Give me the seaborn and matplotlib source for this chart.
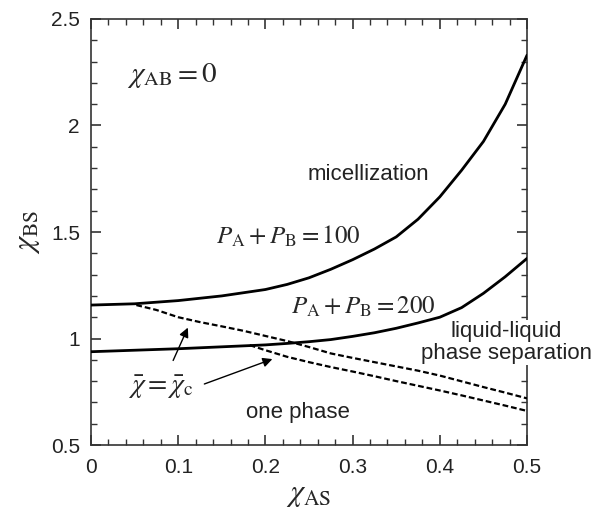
import matplotlib
matplotlib.use("Agg")
import matplotlib.pyplot as plt
import seaborn as sns
import pandas as pd
from matplotlib.ticker import MultipleLocator

# ---- data ----
x_p100 = [0.0, 0.05, 0.10, 0.15, 0.20, 0.225, 0.25, 0.275, 0.30, 0.325, 0.35,
          0.375, 0.40, 0.425, 0.45, 0.475, 0.50]
y_p100 = [1.157, 1.163, 1.178, 1.20, 1.230, 1.254, 1.285, 1.325, 1.37, 1.42, 1.477,
          1.56, 1.665, 1.79, 1.925, 2.10, 2.33]

x_p200 = [0.0, 0.05, 0.10, 0.15, 0.20, 0.225, 0.25, 0.275, 0.30, 0.325, 0.35,
          0.375, 0.40, 0.425, 0.45, 0.475, 0.50]
y_p200 = [0.938, 0.945, 0.952, 0.961, 0.970, 0.977, 0.985, 0.995, 1.01, 1.027, 1.048,
          1.073, 1.10, 1.145, 1.212, 1.29, 1.376]

x_c100 = [0.052, 0.075, 0.10, 0.125, 0.15, 0.175, 0.20, 0.225, 0.25, 0.275, 0.30,
          0.325, 0.35, 0.375, 0.40, 0.425, 0.45, 0.475, 0.50]
y_c100 = [1.157, 1.134, 1.10, 1.077, 1.057, 1.036, 1.012, 0.988, 0.96, 0.93, 0.909,
          0.889, 0.869, 0.849, 0.826, 0.799, 0.772, 0.746, 0.719]

x_c200 = [0.182, 0.20, 0.225, 0.25, 0.275, 0.30, 0.325, 0.35, 0.375, 0.40, 0.425,
          0.45, 0.475, 0.50]
y_c200 = [0.969, 0.945, 0.914, 0.889, 0.866, 0.845, 0.823, 0.800, 0.778, 0.756, 0.733,
          0.709, 0.685, 0.66]

xticks = [0, 0.1, 0.2, 0.3, 0.4, 0.5]
xticklabels = ["0", "0.1", "0.2", "0.3", "0.4", "0.5"]
yticks = [0.5, 1, 1.5, 2, 2.5]
yticklabels = ["0.5", "1", "1.5", "2", "2.5"]

sns.set_style("ticks")
plt.rcParams["font.family"] = ["Liberation Sans", "DejaVu Sans"]
plt.rcParams["mathtext.fontset"] = "stix"

fig = plt.figure(figsize=(6.01, 5.09), dpi=100)
ax = fig.add_axes([0.1514, 0.1257, 0.7255, 0.837])

df_s1 = pd.DataFrame({"x": x_p100, "y": y_p100})
df_s2 = pd.DataFrame({"x": x_p200, "y": y_p200})
df_d1 = pd.DataFrame({"x": x_c100, "y": y_c100})
df_d2 = pd.DataFrame({"x": x_c200, "y": y_c200})

dash = (0, (2.6, 1.3))
sns.lineplot(data=df_s1, x="x", y="y", ax=ax, color="black", lw=2.0, zorder=6)
sns.lineplot(data=df_s2, x="x", y="y", ax=ax, color="black", lw=2.0, zorder=6)
sns.lineplot(data=df_d1, x="x", y="y", ax=ax, color="black", lw=1.6, linestyle=dash, zorder=6)
sns.lineplot(data=df_d2, x="x", y="y", ax=ax, color="black", lw=1.6, linestyle=dash, zorder=6)

ax.set_xlim(0, 0.5)
ax.set_ylim(0.5, 2.5)
ax.set_xticks(xticks)
ax.set_xticklabels(xticklabels)
ax.set_yticks(yticks)
ax.set_yticklabels(yticklabels)
ax.xaxis.set_minor_locator(MultipleLocator(0.02))
ax.yaxis.set_minor_locator(MultipleLocator(0.1))
ax.tick_params(which="both", direction="in", top=True, right=True, colors="#333333",
               labelcolor="#222222", labelsize=15)
ax.tick_params(which="major", length=7, width=1.2)
ax.tick_params(which="minor", length=4, width=1.0)
ax.tick_params(axis="x", pad=9)
ax.tick_params(axis="y", pad=8)
for s in ax.spines.values():
    s.set_linewidth(1.2)
    s.set_color("#333333")

ax.set_xlabel(r"$\chi_{\rm AS}$", fontsize=22, labelpad=2)
ax.set_ylabel(r"$\chi_{\rm BS}$", fontsize=22, labelpad=6)

ax.text(0.041, 2.235, r"$\chi_{\rm AB} = 0$", fontsize=21, ha="left", va="center")
ax.text(0.248, 1.77, "micellization", fontsize=16, ha="left", va="center", color="#222222")
ax.text(0.226, 1.48, r"$P_{\rm A} + P_{\rm B} = 100$", fontsize=18, ha="center", va="center")
ax.text(0.312, 1.15, r"$P_{\rm A} + P_{\rm B} = 200$", fontsize=18, ha="center", va="center")
ax.text(0.476, 0.982, "liquid-liquid\nphase separation", fontsize=16, ha="center", va="center",
        color="#222222", linespacing=1.1,
        bbox=dict(facecolor="white", edgecolor="none", pad=0.5), clip_on=False, zorder=5)
ax.text(0.237, 0.655, "one phase", fontsize=16, ha="center", va="center", color="#222222")
ax.text(0.080, 0.77, r"$\bar{\chi} = \bar{\chi}_{\rm c}$", fontsize=20, ha="center", va="center")

ax.annotate("", xy=(0.1124, 1.063), xytext=(0.0929, 0.885),
            arrowprops=dict(arrowstyle="-|>", color="black", lw=1.0, mutation_scale=14))
ax.annotate("", xy=(0.211, 0.908), xytext=(0.127, 0.782),
            arrowprops=dict(arrowstyle="-|>", color="black", lw=1.0, mutation_scale=14))

fig.savefig("out.png", dpi=100)
